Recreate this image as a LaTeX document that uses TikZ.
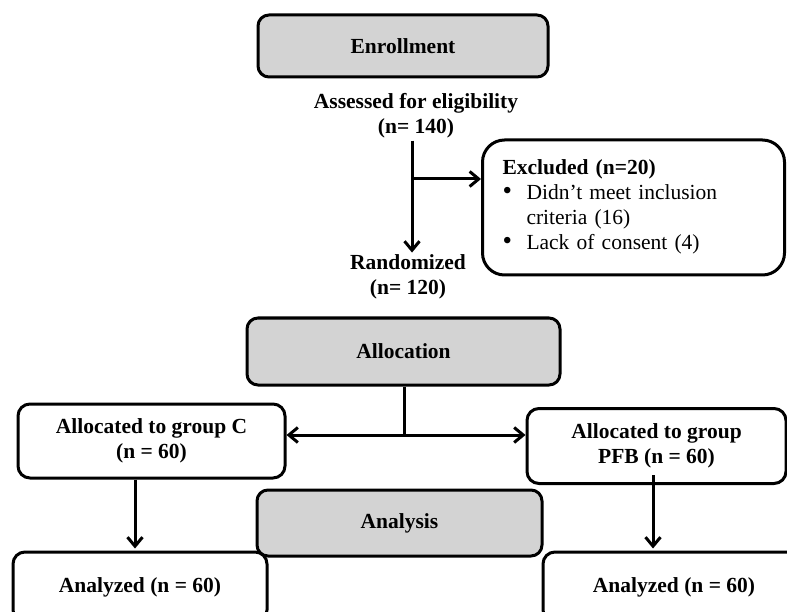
\documentclass[tikz,border=0pt]{standalone}
\usepackage{fontspec}
\setmainfont{Liberation Serif}
\usetikzlibrary{arrows.meta}
\definecolor{boxgray}{HTML}{D3D3D3}
\newcommand{\bigbul}{{\fontsize{27}{25}\selectfont\textbullet}}
\begin{document}
\begin{tikzpicture}[x=1pt,y=-1pt,
  txt/.style={font=\bfseries\fontsize{21.5}{25}\selectfont,align=center,inner sep=2pt},
  graybox/.style={txt,draw=black,line width=3pt,fill=boxgray,rounded corners=11pt,inner sep=0pt},
  whitebox/.style={txt,draw=black,line width=3pt,fill=white,rounded corners=12pt,inner sep=0pt},
  arr/.style={line width=3pt,-{Straight Barb[length=9pt,width=15pt,line width=3pt]}},
  darr/.style={line width=3pt,{Straight Barb[length=9pt,width=15pt,line width=3pt]}-{Straight Barb[length=9pt,width=15pt,line width=3pt]}},
  plain/.style={line width=3pt}]
\useasboundingbox (0,0) rectangle (787,612);
\fill[white] (0,0) rectangle (787,612);
\clip (0,0) rectangle (787,612);

\node[graybox,minimum width=290pt,minimum height=62pt] (enroll) at (403,46) {Enrollment};
\node[txt] (assess) at (416,116) {Assessed for eligibility\\(n= 140)};
\node[whitebox,rounded corners=22pt,minimum width=302pt,minimum height=135pt,text width=262pt,align=left,font=\fontsize{21.5}{25}\selectfont] (excl) at (633.5,207.5)
  {\begin{tabular}{@{}p{24pt}@{}l@{}}
   \multicolumn{2}{@{}l@{}}{\bfseries Excluded (n=20)}\\
   \hspace{0pt}\bigbul & Didn{\char"27}t meet inclusion\\
   & criteria (16)\\
   \hspace{0pt}\bigbul & Lack of consent (4)
   \end{tabular}};
\node[txt] (rand) at (408,277) {Randomized\\(n= 120)};
\node[graybox,minimum width=313pt,minimum height=67pt] (alloc) at (403.5,351.5) {Allocation};
\node[whitebox,minimum width=267pt,minimum height=74pt] (grpc) at (151.5,441) {Allocated to group C\\(n = 60)};
\node[whitebox,minimum width=259pt,minimum height=75pt] (grpp) at (656.5,446) {Allocated to group\\PFB (n = 60)};
\node[whitebox,minimum width=254pt,minimum height=70pt] (anac) at (140,587) {Analyzed (n = 60)};
\node[whitebox,minimum width=262pt,minimum height=70pt] (anap) at (674,587) {Analyzed (n = 60)};
\node[graybox,minimum width=285pt,minimum height=66pt] (anal) at (399.5,523) {Analysis};

\coordinate (j1) at (412,179);
\coordinate (j2) at (404,435);
\draw[arr] (assess.south -| j1) -- (rand.north -| j1);
\draw[arr] (j1) -- (excl.west |- j1);
\draw[plain] (alloc.south -| j2) -- (j2);
\draw[darr] (grpc.east |- j2) -- (grpp.west |- j2);
\draw[arr] (grpc.south -| 135,0) -- ([yshift=2pt]anac.north -| 135,0);
\draw[arr,shorten <=-10pt] (grpp.south -| 653,0) -- ([yshift=2pt]anap.north -| 653,0);
\end{tikzpicture}
\end{document}
